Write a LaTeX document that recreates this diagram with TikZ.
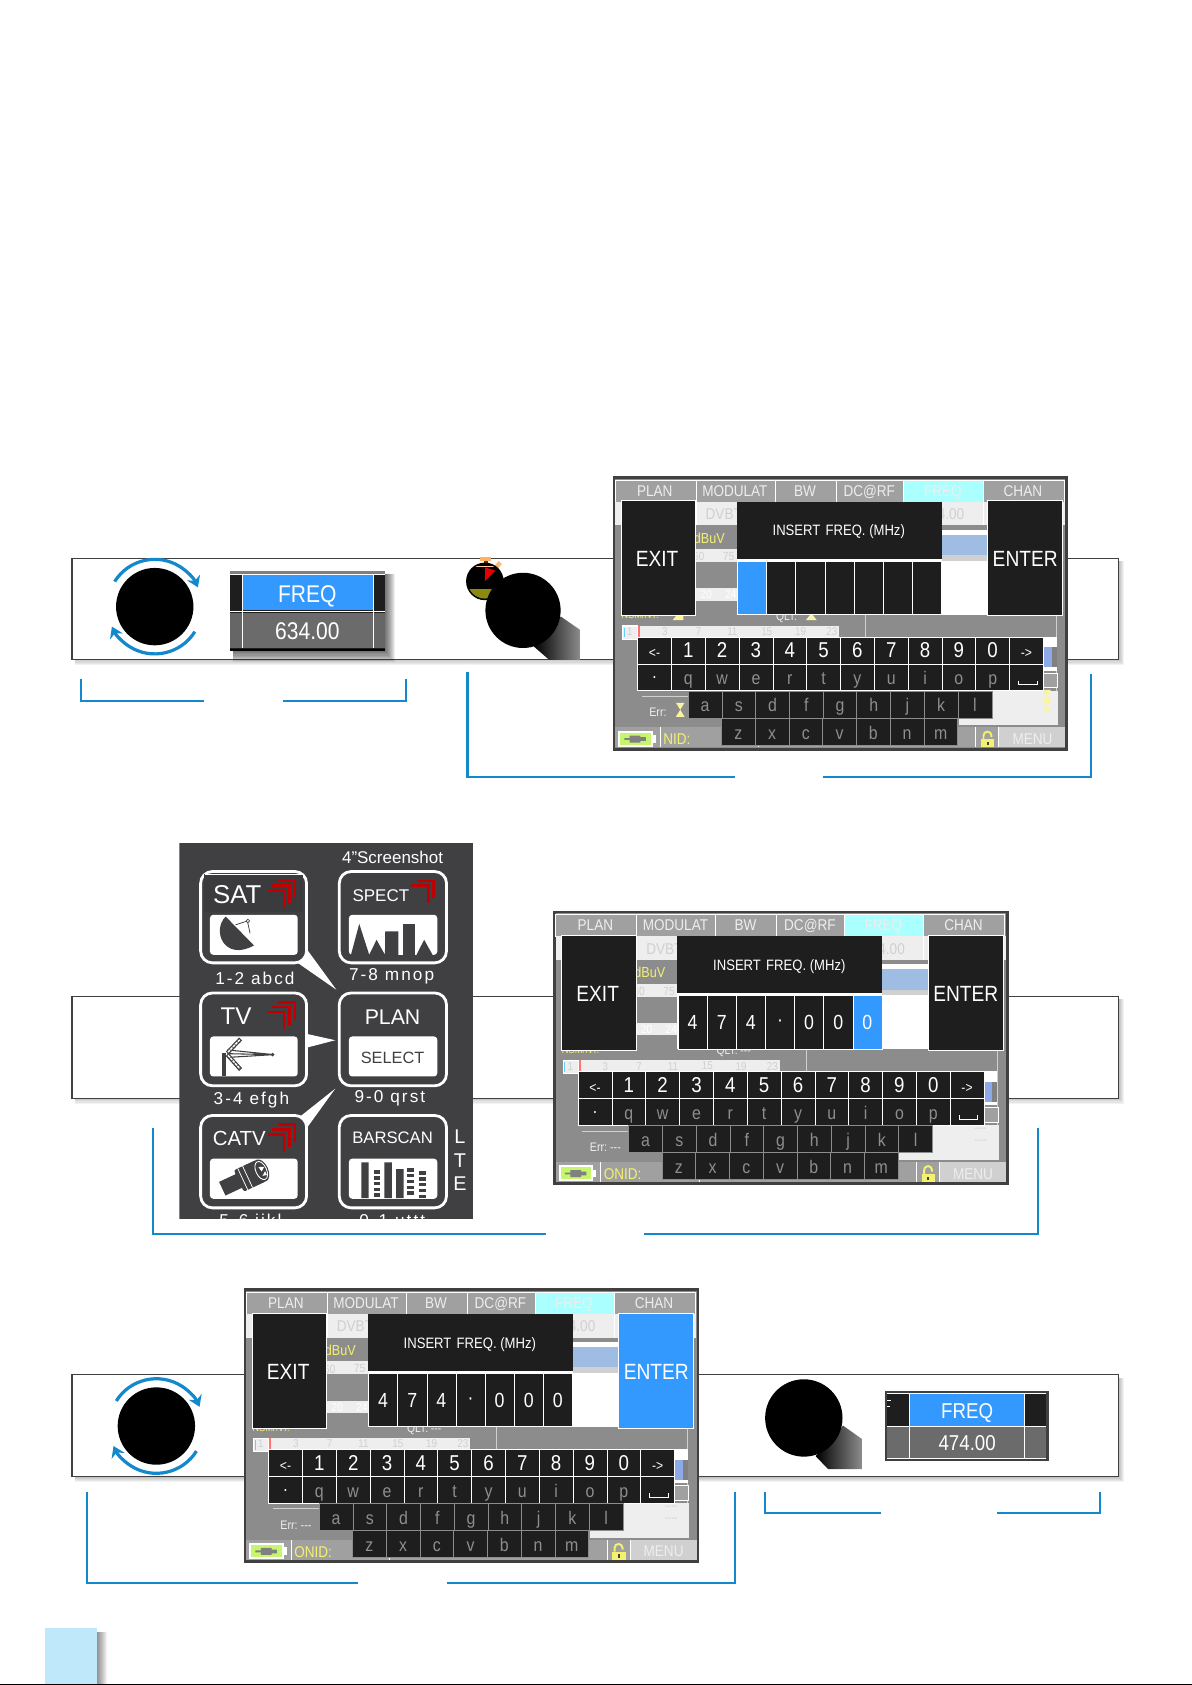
\documentclass[tikz,border=0pt]{standalone}
\usepackage{fontspec}
\setmainfont{Liberation Sans}
\newfontfamily\scrf[FakeStretch=.87]{Liberation Sans}
\newfontfamily\spacedf[LetterSpace=12]{Liberation Sans}
\usetikzlibrary{calc,arrows.meta}
\definecolor{panelk}{HTML}{1E1E1E}
\definecolor{blueact}{HTML}{3399FF}
\definecolor{brk}{HTML}{1488CC}
\definecolor{frameg}{HTML}{404040}
\definecolor{scrg}{HTML}{8C8C8C}
\definecolor{tabg}{HTML}{A0A0A0}
\definecolor{tabc}{HTML}{AAFFFF}
\definecolor{lightg}{HTML}{EEEEEE}
\definecolor{fadeg}{HTML}{D0D0D0}
\definecolor{keyg}{HTML}{8E8E8E}
\definecolor{yel}{HTML}{F4F070}
\definecolor{yelg}{HTML}{F8F4A0}
\definecolor{battg}{HTML}{C6F56E}
\definecolor{barblue}{HTML}{9FBCE3}
\definecolor{iconbg}{HTML}{404042}
\definecolor{chev}{HTML}{C00000}
\definecolor{pagetab}{HTML}{C0E8FB}
\definecolor{olive}{HTML}{8A8A10}
\newcommand\fs[1]{\fontsize{#1}{#1}\selectfont}
\tikzset{
  stripbox/.style={draw=frameg,fill=white,line width=1.1},
  brack/.style={draw=brk,line width=2},
  turn/.style={draw=brk,line width=3,-{Stealth[length=10,width=13]}},
  knob/.style={circle,fill=black,minimum size=72,inner sep=0},
  stxt/.style={inner sep=0,text=white,font=\scrf\fs{13}},
  dpanel/.style={fill=panelk,draw=white,line width=.6},
  keybox/.style={anchor=north west,minimum width=31.47,minimum height=25,inner sep=0,fill=panelk,line width=.6,font=\scrf\fs{17},text height=14,text depth=0},
  digitbox/.style={anchor=north west,minimum width=27.1,minimum height=49.5,inner sep=0,draw=white,line width=.6,text=white,font=\scrf\fs{19},text height=14,text depth=0},
  tabcell/.style={fill=tabg,draw=white,line width=.6},
  ibtn/.style={draw=white,line width=2.6,rounded corners=11,fill=iconbg},
  ipanel/.style={fill=white,rounded corners=3},
  itxt/.style={inner sep=0,text=white},
  ilab/.style={inner sep=0,text=white,font=\spacedf\fs{16}},
  chevl/.style={draw=chev,line width=2.5},
}
% shadow: x1 y1 x2 y2 size opacity
\newcommand\softshadow[6]{\foreach \s in {0,1,...,#5}{\fill[black,opacity=#6] ({#1+3},{#2+3}) rectangle ({#3+#5-\s},{#4+#5-\s});}}
% bracket: name x1 ytop ybot xa xb x2
\newcommand\bracket[7]{%
  \coordinate (#1-a) at (#2,#3); \coordinate (#1-b) at (#2,#4); \coordinate (#1-c) at (#5,#4);
  \coordinate (#1-d) at (#6,#4); \coordinate (#1-e) at (#7,#4); \coordinate (#1-f) at (#7,#3);
  \draw[brack] (#1-a) -- (#1-b) -- (#1-c);
  \draw[brack] (#1-d) -- (#1-e) -- (#1-f);}
% screen: prefix ox oy bottomlabel digits blueindex entercolor hourglass(1/0)
\newcommand\screen[8]{%
\begin{scope}[shift={(#2,#3)},name prefix=#1-]
  \fill[frameg] (0,0) rectangle (424,255.5);
  \fill[scrg] (2.5,2.5) rectangle (421.5,253);
  % tab row
  \foreach \xa/\xb/\tt/\cc in {2.2/77.5/PLAN/tabg,77.5/151.2/MODULAT/tabg,151.2/207.9/BW/tabg,207.9/271/DC@RF/tabg,271/344.7/FREQ/tabc,344.7/420/CHAN/tabg}{
    \draw[tabcell,fill=\cc] (\xa,3.7) rectangle (\xb,24);
    \node[inner sep=0,text=lightg,font=\scrf\fs{14.5},text height=10,text depth=0] at ({(\xa+\xb)/2-0.5},14) {\tt};
  }
  % second row
  \fill[lightg] (2.5,24) rectangle (421,46);
  \draw[white,line width=.6] (77.5,24) -- (77.5,46) (344.7,24) -- (344.7,46);
  \node[inner sep=0,text=fadeg,font=\scrf\fs{14.5}] at (103.5,35.5) {DVBT};
  \node[inner sep=0,text=fadeg,font=\scrf\fs{14.5}] at (315,35.5) {4.00};
  % left bars
  \node[inner sep=0,text=yel,font=\scrf\fs{13.5}] at (90,57.5) {dBuV};
  \fill[lightg] (77,68) rectangle (116,80);
  \node[inner sep=0,text=fadeg,font=\scrf\fs{11}] at (80,75) {60};
  \node[inner sep=0,text=fadeg,font=\scrf\fs{11}] at (108,75) {75};
  \fill[lightg] (77,104.5) rectangle (116,116);
  \node[inner sep=0,text=white,font=\scrf\fs{11}] at (87,110.5) {20};
  \node[inner sep=0,text=white,font=\scrf\fs{11}] at (110,110.5) {24};
  % right of title
  \fill[scrg] (306,46) rectangle (349,50);
  \fill[white] (306,50) rectangle (349,54.6);
  \fill[barblue] (306,54.6) rectangle (349,73.5);
  \fill[fadeg] (306,73.5) rectangle (349,79);
  \fill[white] (306,79) rectangle (349,129);
  % under row
  \node[inner sep=0,text=yel,font=\scrf\fs{10},anchor=base west] at (8,133) {NSM/NT:};
  \node[inner sep=0,text=lightg,font=\scrf\fs{11},anchor=base west] at (152,134) {QLT:\ifnum#8=0\ ---\fi};
  \ifnum#8=1
    \fill[yelg] (56,134) -- (60,129) -- (66,129) -- (66,134) -- cycle;
    \fill[yelg] (180,134) -- (184,129) -- (186,129) -- (190,134) -- cycle;
  \fi
  \draw[fadeg,line width=.6] (235.5,129) -- (235.5,150) (413,129) -- (413,232);
  % level bar
  \fill[lightg] (10,139.5) rectangle (211,150);
  \draw[white,line width=1,fill=lightg] (9.6,139.5) rectangle (23.4,152);
  \fill[cyan!60] (10.3,141) rectangle (11.5,150);
  \fill[red!55] (24,139.5) rectangle (25.6,149.5);
  \foreach \nx/\nt in {16/1,48.7/3,80/7,111.5/11,143.5/15,175/19,204/23}{
    \node[inner sep=0,text=fadeg,font=\scrf\fs{10.5}] at (\nx,144.8) {\nt};
  }
  % right column
  \fill[white] (401,149.5) rectangle (413.5,181);
  \fill[barblue!90!blue] (401,159.5) rectangle (408.6,178);
  \fill[gray] (408.6,159.5) rectangle (413.5,178);
  \draw[white,line width=.8,fill=tabg] (401,183.5) rectangle (414,197);
  \fill[lightg] (353.7,199.7) rectangle (414.5,232);
  \fill[lightg] (322,224.8) rectangle (354,232);
  \draw[fadeg,line width=.6] (27,205) -- (71,205);
  \node[inner sep=0,text=lightg,font=\scrf\fs{11.5},anchor=west] at (34,220) {Err:\ifnum#8=0\ ---\fi};
  \ifnum#8=1
    \fill[yelg] (59,211) -- (67,211) -- (63,217.5) -- (67,224) -- (59,224) -- (63,217.5) -- cycle;
    \fill[yelg] (400,199) -- (408,199) -- (404,204.5) -- (408,210) -- (400,210) -- (404,204.5) -- cycle;
    \fill[yelg] (400,208.5) -- (408,208.5) -- (404,214) -- (408,219.5) -- (400,219.5) -- (404,214) -- cycle;
  \else
    \node[inner sep=0,text=fadeg,font=\scrf\fs{10}] at (398,204) {----};
    \node[inner sep=0,text=fadeg,font=\scrf\fs{10}] at (398,215) {----};
  \fi
  % bottom row
  \fill[tabg] (2.5,233.8) rectangle (421.5,252.5);
  \draw[white,line width=.6] (44,233.8) -- (44,252.5) (136,233.8) -- (136,252.5) (338,233.8) -- (338,252.5);
  \fill[fadeg] (359.4,233.8) rectangle (421.5,252.5);
  \draw[white,line width=.6] (359.4,233.8) -- (359.4,252.5);
  \node[inner sep=0,text=lightg,font=\scrf\fs{14.5}] at (390.8,245) {MENU};
  \node[inner sep=0,text=yel,font=\scrf\fs{14.5},anchor=west] at (47,245) {#4};
  \draw[white,line width=1.8,fill=battg] (6,238) rectangle (36.5,251);
  \fill[white] (37,241) rectangle (40,248);
  \fill[gray] (16,241.5) rectangle (26,248) (11,243.8) rectangle (16,245.6) (26,243) rectangle (31,246.5);
  \fill[yel] (343,245) rectangle (355.4,252.5);
  \draw[yel,line width=1.8] (345.2,245) -- (345.2,241.5) arc (180:360:3.7) -- (352.6,243);
  \fill[frameg] (348.2,247.5) rectangle (350.2,250.5);
  % title panel
  \fill[panelk] (115.5,24) rectangle (306.5,77);
  \node[stxt,font=\scrf\fs{14}] (title) at (210.5,52) {INSERT\hspace{.35em}FREQ. (MHz)};
  \fill[white] (115.5,77) rectangle (306.5,129);
  % digit cells
  \foreach \dd [count=\i] in {#5}{
    \ifnum\i=#6 \def\cf{blueact}\else\def\cf{panelk}\fi
    \node[digitbox,fill=\cf] (dig\i) at ({116+27.1*(\i-1)},79) {\dd};
  }
  % exit / enter
  \draw[dpanel] (8,23) rectangle (77,130);
  \node[stxt,font=\scrf\fs{20.5}] (exit) at (41.5,77.5) {EXIT};
  \draw[dpanel,fill=#7] (349,23) rectangle (418.5,130);
  \node[stxt,font=\scrf\fs{20.5}] (enter) at (384,77.5) {ENTER};
  % keyboard
  \foreach \k [count=\i from 0] in {<-,1,2,3,4,5,6,7,8,9,0,->}{
    \ifnum\i=0 \def\kf{\scrf\fs{13}}\else\ifnum\i=11 \def\kf{\scrf\fs{13}}\else\def\kf{\scrf\fs{20}}\fi\fi
    \node[keybox,draw=white,text=white,font=\kf] (ka\i) at ({23+31.47*\i},149.5) {\k};
  }
  \foreach \k [count=\i from 0] in {\raisebox{2pt}{·},q,w,e,r,t,y,u,i,o,p,\phantom{p}}{
    \ifnum\i=0 \def\kc{white}\else\def\kc{keyg}\fi
    \node[keybox,draw=white,text=\kc] (kb\i) at ({23+31.47*\i},174.5) {\k};
  }
  \draw[white,line width=.9] (378,190.4) -- (378,194.4) -- (395,194.4) -- (395,190.4);
  \foreach \k [count=\i from 0] in {a,s,d,f,g,h,j,k,l}{
    \node[keybox,draw=scrg,text=keyg] (kc\i) at ({70+31.4*\i},199.7) {\k};
  }
  \foreach \k [count=\i from 0] in {z,x,c,v,b,n,m}{
    \node[keybox,draw=scrg,text=keyg] (kd\i) at ({101+31.4*\i},225) {\k};
  }
\end{scope}}
% red chevrons at button origin
\newcommand\chevA{\draw[chevl] (72,8.7) -- (87.8,8.7) -- (87.8,24.8);}
\newcommand\chevB{\draw[chevl] (66.7,13) -- (82.8,13) -- (82.8,29.5);}
\newcommand\chevC{\draw[chevl] (62.3,17.7) -- (77.5,17.7) -- (77.5,34);}
\begin{document}
\begin{tikzpicture}[x=1pt,y=-1pt]
\useasboundingbox (0,0) rectangle (1109.2,1568);
\fill[white] (0,0) rectangle (1109.2,1568);
% strips
\softshadow{67}{519.5}{1041}{613.5}{5}{.05}
\draw[stripbox] (67,519.5) rectangle (1041,613.5);
\softshadow{67}{927}{1041}{1022}{5}{.05}
\draw[stripbox] (67,927) rectangle (1041,1022);
\softshadow{67}{1279}{1041}{1374}{5}{.05}
\draw[stripbox] (67,1279) rectangle (1041,1374);
% knob 1 with turn arrows
\node[knob] (knobA) at (144,564.5) {};
\draw[turn] (knobA.center) ++(-148:44) arc (-148:-24:44);
\draw[turn] (knobA.center) ++(32:44) arc (32:155:44);
% FREQ tile 1
\softshadow{214}{531}{358}{606}{10}{.07}
\fill[panelk] (214,531) rectangle (358,606);
\fill[gray] (214,531) rectangle (358,535);
\fill[blueact] (225.6,535) rectangle (347.3,568);
\fill[gray!80!black] (214,570) rectangle (358,603);
\fill[black!58] (225.6,570) rectangle (347.3,603);
\fill[black] (214,603.5) rectangle (358,606);
\draw[white,line width=.9] (214,535) -- (358,535) (214,569) -- (358,569) (225.6,535) -- (225.6,603) (347.3,535) -- (347.3,603);
\node[itxt,font=\scrf\fs{22.5}] (freqA) at (286,555) {FREQ};
\node[itxt,font=\scrf\fs{22.5}] (valA) at (286,587) {634.00};
% timer
\fill[orange!60] (447,518) rectangle (456.5,522);
\fill[orange!40!black] (450,522) rectangle (454,526);
\fill[orange!55] (460.5,526) -- (464,522) -- (467,525) -- (463.5,529) -- cycle;
\fill[black] (451.2,541) circle (17.5);
\begin{scope}
  \clip (451.2,541) circle (16);
  \fill[olive] (430,548) rectangle (475,560);
  \fill[orange!40] (440,526.5) rectangle (463,528);
\end{scope}
\fill[red!90!black] (451.2,541) -- (451.5,528) -- (461,531) -- cycle;
% knob 2 + handle
\shade[left color=black,middle color=black,right color=black!45] (521.8,573.7) -- (539.6,586) -- (539.6,614) -- (511,614) -- (496.8,601.6) -- cycle;
\node[knob,minimum size=70] (knobB) at (486.7,568) {};
% knob 3
\node[knob] (knobC) at (145.5,1327) {};
\draw[turn] (knobC.center) ++(-148:44) arc (-148:-24:44);
\draw[turn] (knobC.center) ++(32:44) arc (32:155:44);
% knob 4
\shade[left color=black,middle color=black,right color=black!45] (784.5,1326.6) -- (802,1339) -- (802,1367) -- (770.5,1367) -- (759,1355) -- cycle;
\node[knob] (knobD) at (748,1319.5) {};
% FREQ tile 2
\fill[frameg] (823.3,1294) rectangle (975.7,1360);
\fill[panelk] (825.5,1296.3) rectangle (973.5,1326.6);
\fill[black!58] (825.5,1327.4) rectangle (973.5,1357.5);
\fill[blueact] (846.6,1296.3) rectangle (953.6,1326.6);
\draw[white,line width=.7] (825.5,1296.3) -- (973.5,1296.3) (825.5,1327) -- (973.5,1327) (825.5,1357.5) -- (973.5,1357.5) (846.6,1296.3) -- (846.6,1357.5) (953.6,1296.3) -- (953.6,1357.5);
\draw[white,line width=1] (825.5,1303.5) -- (829,1303.5) (825.5,1309) -- (828,1309);
\node[itxt,font=\scrf\fs{20}] (freqD) at (900,1314.5) {FREQ};
\node[itxt,font=\scrf\fs{20}] (valD) at (900,1343) {474.00};
% screens
\screen{sA}{570}{443}{NID:}{\phantom{0},\phantom{0},\phantom{0},\phantom{0},\phantom{0},\phantom{0},\phantom{0}}{1}{panelk}{1}
\screen{sB}{514.7}{847.3}{ONID:}{4,7,4,\raisebox{3pt}{·},0,0,0}{7}{panelk}{0}
\screen{sC}{226.7}{1198.9}{ONID:}{4,7,4,\raisebox{3pt}{·},0,0,0}{0}{blueact}{0}
% icon panel
\begin{scope}
\clip (167,784) rectangle (440.3,1134);
\fill[iconbg] (167,784) rectangle (440.3,1134);
\node[itxt,font=\fs{15.8}] (shot) at (365.3,798) {4”Screenshot};
% callouts
\fill[white] (277,896) -- (286,884) -- (313,921) -- cycle;
\fill[white] (285,962) -- (285,975) -- (312,968) -- cycle;
\fill[white] (278,1040) -- (286,1049) -- (312,1013) -- cycle;
% SAT
\begin{scope}[shift={(186.7,811)}]
  \draw[ibtn] (0,0) rectangle (98.6,85);
  \fill[ipanel] (8.7,40.3) rectangle (90.3,77.5);
  \fill[iconbg!92!black] (3,2.5) rectangle (95,38);
  \draw[white,line width=.7] (4,2.5) -- (95,2.5);
  \node[itxt,font=\fs{24}] (sat) at (34,21.5) {SAT};
  \chevA \chevB \chevC
  \fill[iconbg] (23.3,41.9) .. controls (10,55) and (22,84) .. (49.6,68.8) -- cycle;
  \draw[iconbg,line width=.7] (32.5,49.6) -- (43.5,46) -- (46,57.5);
  \draw[iconbg,line width=.6,fill=white] (44,46) circle (1.7);
\end{scope}
% SPECT
\begin{scope}[shift={(315.7,811)}]
  \draw[ibtn] (0,0) rectangle (99.8,85);
  \fill[ipanel] (9,40.3) rectangle (91.2,77.5);
  \node[itxt,font=\fs{15.8}] (spect) at (38.7,22.3) {SPECT};
  \chevA \chevB
  \fill[iconbg] (10.9,77.5) -- (18.6,48.7) -- (27.9,77.5) -- (34.7,63.5) -- (42.5,77.5) -- (42.8,55.8) -- (54.9,55.8) -- (54.9,77.5) -- cycle;
  \fill[iconbg] (58.9,48.7) rectangle (70.7,77.5);
  \fill[iconbg] (71.9,77.5) -- (79,63.5) -- (86.8,77.5) -- cycle;
\end{scope}
% TV
\begin{scope}[shift={(186.7,924)}]
  \draw[ibtn] (0,0) rectangle (98.6,86.4);
  \fill[ipanel] (8.7,40.5) rectangle (90.3,77.7);
  \node[itxt,font=\fs{22.5}] (tv) at (33,21.5) {TV};
  \chevA \chevB \chevC
  \draw[iconbg,line width=3] (21.7,55.8) -- (21.7,77.7);
  \draw[iconbg,line width=1] (24.8,53) -- (68,57.4) -- (24.8,60) (24.8,56.5) -- (68,57.4);
  \fill[iconbg] (67,57.4) circle (1.8);
  \draw[iconbg,line width=3.8] (24.8,55.8) -- (37.2,42.8) (24.8,57.4) -- (37.2,71.3);
  \draw[white,line width=1.4,dash pattern=on 2.5 off .8] (25.5,55) -- (36.5,43.5) (25.5,58) -- (36.5,70.5);
\end{scope}
% PLAN
\begin{scope}[shift={(315.7,924)}]
  \draw[ibtn] (0,0) rectangle (99.8,86.4);
  \fill[ipanel] (9,40.5) rectangle (91.2,77.7);
  \node[itxt,font=\fs{19.8}] (plan) at (49.6,22.5) {PLAN};
  \node[itxt,font=\fs{15.2},text=iconbg] (select) at (49.6,60.5) {SELECT};
\end{scope}
% CATV
\begin{scope}[shift={(186.7,1038)}]
  \draw[ibtn] (0,0) rectangle (98.6,86);
  \fill[ipanel] (8.7,40.2) rectangle (90.3,77.5);
  \node[itxt,font=\fs{19}] (catv) at (36,21) {CATV};
  \chevA \chevB \chevC
  \begin{scope}[shift={(41.9,58)},rotate=25]
    \fill[iconbg] (-24,-7) rectangle (-6,7);
    \fill[iconbg,rounded corners=2] (-7,-11) rectangle (16,11);
    \draw[white,line width=.7] (-3,-11) -- (-3,11) (2,-11) -- (2,11);
    \fill[iconbg] (16,0) ellipse (6.5 and 11);
    \draw[white,line width=.8] (16,0) ellipse (5 and 9);
    \fill[white] (15,-4) -- (20,-2) -- (16,1) -- cycle;
    \fill[white] (15,5) -- (19,2) -- (19,6) -- cycle;
  \end{scope}
\end{scope}
% BARSCAN
\begin{scope}[shift={(315.7,1038)}]
  \draw[ibtn] (0,0) rectangle (99.8,86);
  \fill[ipanel] (9,40.2) rectangle (91.2,77.5);
  \node[itxt,font=\fs{15.5}] (barscan) at (49.6,21) {BARSCAN};
  \fill[iconbg] (20.5,43.7) rectangle (27.3,77) (42,43.7) rectangle (49,77) (53,50) rectangle (60,77);
  \foreach \lx/\ly in {32/51,63/49,74.5/52}{
    \foreach \r in {0,1,...,4}{
      \fill[iconbg] (\lx,{\ly+\r*5.4}) rectangle ({\lx+6.3},{\ly+\r*5.4+3.2});
    }
  }
\end{scope}
% labels
\node[ilab] (l12) at (237.2,910.2) {1-2 abcd};
\node[ilab] (l78) at (364.4,908.6) {7-8 mnop};
\node[ilab] (l34) at (234,1023.4) {3-4 efgh};
\node[ilab] (l90) at (362.8,1021.8) {9-0 qrst};
\node[ilab,anchor=base] (l56) at (233,1141.5) {5-6 ijkl};
\node[ilab,anchor=base] (l01) at (365,1141.5) {0-1 uttt};
\node[itxt,font=\fs{18.5}] (lteL) at (428,1057.5) {L};
\node[itxt,font=\fs{18.5}] (lteT) at (428,1080) {T};
\node[itxt,font=\fs{18.5}] (lteE) at (428,1101.8) {E};
\end{scope}
% brackets
\bracket{bA}{75}{632}{652}{190}{263}{378}
\bracket{bC}{142}{1050}{1148}{508}{599}{966}
\bracket{bD}{81}{1388}{1473}{333}{416}{684}
\bracket{bE}{712}{1388}{1408}{820}{928}{1024}
\coordinate (bB-a) at (435,625); \coordinate (bB-b) at (435,723); \coordinate (bB-c) at (684,723);
\coordinate (bB-d) at (766,723); \coordinate (bB-e) at (1015,723); \coordinate (bB-f) at (1015,627);
\draw[brack] (bB-a) -- (bB-b) -- (bB-c);
\draw[brack] (bB-d) -- (bB-e) -- (bB-f);
% page tab
\foreach \s in {0,1,...,9}{\fill[black,opacity=.05] (90,1519) rectangle ({100-\s},1568);}
\fill[pagetab] (42,1515) rectangle (90,1568);
\fill[black] (0,1566.6) rectangle (1109.2,1568);
\end{tikzpicture}
\end{document}
